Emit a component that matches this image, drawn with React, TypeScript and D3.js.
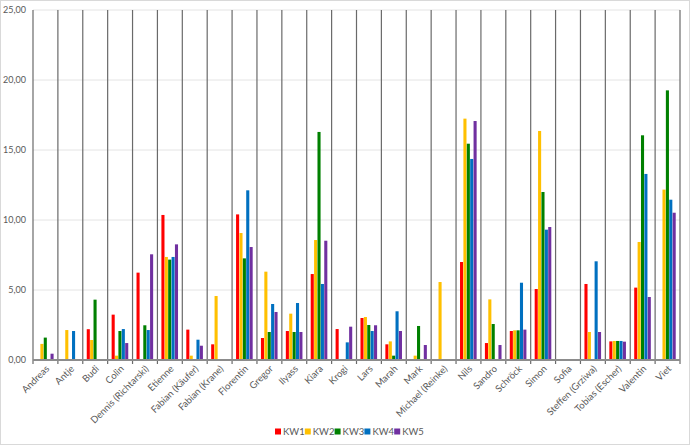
import * as d3 from "d3";

const names = [
  "Andreas", "Antje", "Budi", "Colin", "Dennis (Richtarski)", "Etienne",
  "Fabian (Käufer)", "Fabian (Krane)", "Florentin", "Gregor", "Ilyass", "Kiara",
  "Krogi", "Lars", "Marah", "Mark", "Michael (Reinke)", "Nils", "Sandro",
  "Schröck", "Simon", "Sofia", "Steffen (Grziwa)", "Tobias (Escher)", "Valentin", "Viet",
];
const series = ["KW1", "KW2", "KW3", "KW4", "KW5"];
const colors = ["#ff0000", "#ffc000", "#008000", "#0070c0", "#7030a0"];

const kw1 = [0, 0, 2.2, 3.24, 6.24, 10.36, 2.17, 1.12, 10.4, 1.57, 2.07, 6.14, 2.21, 3.0, 1.12, 0, 0, 7.0, 1.21, 2.07, 5.07, 0, 5.43, 1.33, 5.17, 0];
const kw2 = [1.15, 2.14, 1.43, 0.31, 0, 7.36, 0.31, 4.57, 9.07, 6.31, 3.31, 8.57, 0, 3.07, 1.33, 0.31, 5.57, 17.24, 4.33, 2.12, 16.36, 0.05, 2.0, 1.36, 8.43, 12.17];
const kw3 = [1.6, 0, 4.31, 2.07, 2.48, 7.17, 0, 0, 7.26, 2.0, 2.0, 16.29, 0, 2.5, 0.31, 2.43, 0, 15.45, 2.57, 2.12, 12.0, 0, 0, 1.36, 16.05, 19.26];
const kw4 = [0, 2.07, 0, 2.21, 2.14, 7.36, 1.45, 0, 12.12, 4.0, 4.07, 5.43, 1.26, 2.07, 3.48, 0, 0, 14.36, 0, 5.52, 9.31, 0, 7.05, 1.36, 13.29, 11.45];
const kw5 = [0.45, 0, 0, 1.21, 7.55, 8.26, 1.02, 0, 8.07, 3.43, 2.0, 8.52, 2.38, 2.48, 2.07, 1.07, 0, 17.07, 1.07, 2.17, 9.5, 0, 2.0, 1.31, 4.5, 10.52];
const values = [kw1, kw2, kw3, kw4, kw5];
const yTicks = [0, 5, 10, 15, 20, 25];

const W = 690;
const H = 445;
const L = 33;
const R = 680;
const T = 10;
const B = 360;
const font = "Lato, 'Open Sans', sans-serif";
const ink = "#595959";

export default function App() {
  const x0 = d3.scaleBand<string>().domain(names).range([L, R]).padding(0);
  const bw = x0.bandwidth();
  const x1 = d3.scaleBand<string>().domain(series).range([bw * 0.16, bw * 0.84]).padding(0);
  const y = d3.scaleLinear().domain([0, 25]).range([B, T]);
  const fmt = (v: number) => d3.format(".2f")(v).replace(".", ",");
  const seps = names.map((n) => x0(n)!).concat([R]);

  return (
    <svg width={W} height={H} style={{ position: "absolute", left: 0, top: 0, background: "#fff" }} fontFamily={font}>
      <rect x={0.5} y={0.5} width={W - 1} height={H - 1} fill="#fff" stroke="#d9d9d9" />
      {yTicks.map((t) => (
        <g key={t}>
          {t > 0 && <line x1={L} x2={R} y1={y(t)} y2={y(t)} stroke="#e4e4e4" strokeWidth={1} />}
          <text x={26} y={y(t)} dy="0.32em" textAnchor="end" fontSize={9} fill={ink}>{fmt(t)}</text>
        </g>
      ))}
      {seps.map((sx, i) => (
        <line key={i} x1={sx} x2={sx} y1={T} y2={B + 4} stroke="#6a6a6a" strokeWidth={1.2} />
      ))}
      {names.map((n, ci) => (
        <g key={n} transform={`translate(${x0(n)},0)`}>
          {series.map((s, si) => {
            const v = values[si][ci];
            if (!v) return null;
            return (
              <rect key={s} x={x1(s)} width={x1.bandwidth() - 0.3} y={y(v)} height={B - y(v)} fill={colors[si]} />
            );
          })}
        </g>
      ))}
      <line x1={L} x2={R} y1={B} y2={B} stroke="#8c8c8c" strokeWidth={2} />
      {names.map((n) => {
        const cx = x0(n)! + bw / 2 + 2;
        return (
          <text key={n} transform={`translate(${cx},${B + 7}) rotate(-45)`} textAnchor="end" dy="0.35em" fontSize={9.5} fill={ink}>
            {n}
          </text>
        );
      })}
      {series.map((s, i) => {
        const lx = 275 + i * 29.8;
        return (
          <g key={s}>
            <rect x={lx} y={428.5} width={6} height={6} fill={colors[i]} />
            <text x={lx + 8} y={432} dy="0.35em" fontSize={9.5} fill={ink}>{s}</text>
          </g>
        );
      })}
    </svg>
  );
}
